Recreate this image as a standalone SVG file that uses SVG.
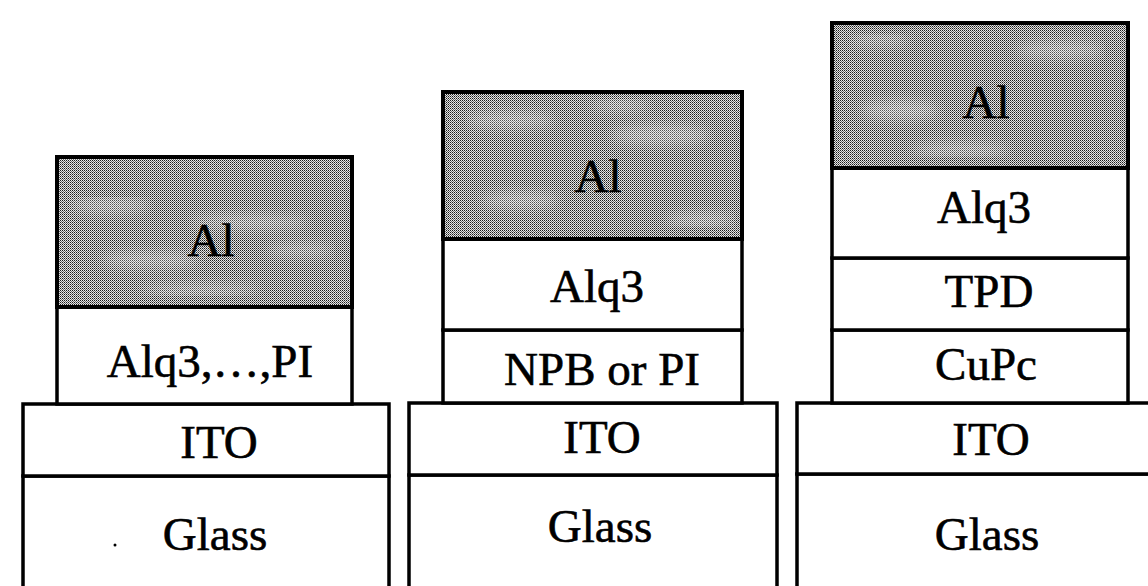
<svg xmlns="http://www.w3.org/2000/svg" width="1148" height="586" viewBox="0 0 1148 586">
  <style>
    .layer { fill: #ffffff; stroke: #000000; stroke-width: 3.5; }
    .metal { fill: url(#dither); stroke: #000000; stroke-width: 4; }
    .lbl { font-family: 'Liberation Serif', 'DejaVu Serif', serif; font-size: 47px; fill: #000000; stroke: #000000; stroke-width: 0.6; text-anchor: middle; }
  </style>
  <defs>
    <pattern id="dither" width="2" height="2" patternUnits="userSpaceOnUse">
      <rect width="2" height="2" fill="#e6e6e6"/>
      <rect width="1" height="1" fill="#1a1a1a"/>
      <rect x="1" y="1" width="1" height="1" fill="#6a6a6a"/>
    </pattern>
    <filter id="mottle" x="0" y="0" width="100%" height="100%">
      <feGaussianBlur stdDeviation="6"/>
    </filter>
  </defs>
  <rect width="1148" height="586" fill="#ffffff"/>

  <!-- Stack 1 -->
  <g id="stack1">
    <g id="s1-glass"><rect class="layer" x="23" y="476" width="366" height="120"/><text class="lbl" x="215" y="550">Glass</text><circle cx="115" cy="545" r="1.5" fill="#000"/></g>
    <g id="s1-ito"><rect class="layer" x="23" y="404" width="366" height="72"/><text class="lbl" x="219" y="458">ITO</text></g>
    <g id="s1-alq3"><rect class="layer" x="57" y="307" width="295" height="97"/><text class="lbl" x="210" y="377">Alq3,…,PI</text></g>
    <g id="s1-al">
      <rect class="metal" x="57" y="157" width="295" height="150"/>
      <g filter="url(#mottle)" fill="#ffffff" opacity="0.3">
        <ellipse cx="110" cy="205" rx="40" ry="8"/>
        <ellipse cx="250" cy="222" rx="60" ry="7"/>
        <ellipse cx="150" cy="260" rx="50" ry="8"/>
        <ellipse cx="300" cy="250" rx="35" ry="6"/>
        <ellipse cx="200" cy="290" rx="60" ry="6"/>
      </g>
      <text class="lbl" x="211" y="256">Al</text>
    </g>
  </g>

  <!-- Stack 2 -->
  <g id="stack2">
    <g id="s2-glass"><rect class="layer" x="409" y="475" width="368" height="120"/><text class="lbl" x="600" y="542">Glass</text></g>
    <g id="s2-ito"><rect class="layer" x="409" y="403" width="368" height="72"/><text class="lbl" x="602" y="453">ITO</text></g>
    <g id="s2-npb"><rect class="layer" x="443" y="330" width="299" height="73"/><text class="lbl" x="602" y="385">NPB or PI</text></g>
    <g id="s2-alq3"><rect class="layer" x="443" y="239" width="299" height="91"/><text class="lbl" x="597" y="302">Alq3</text></g>
    <g id="s2-al">
      <rect class="metal" x="443" y="92" width="299" height="147"/>
      <g filter="url(#mottle)" fill="#ffffff" opacity="0.3">
        <ellipse cx="510" cy="120" rx="45" ry="8"/>
        <ellipse cx="660" cy="135" rx="50" ry="10"/>
        <ellipse cx="520" cy="200" rx="40" ry="8"/>
        <ellipse cx="700" cy="220" rx="35" ry="7"/>
        <ellipse cx="620" cy="105" rx="30" ry="6"/>
      </g>
      <text class="lbl" x="598" y="192">Al</text>
    </g>
  </g>

  <!-- Stack 3 -->
  <g id="stack3">
    <g id="s3-glass"><rect class="layer" x="797" y="474" width="370" height="120"/><text class="lbl" x="987" y="550">Glass</text></g>
    <g id="s3-ito"><rect class="layer" x="797" y="403" width="370" height="71"/><text class="lbl" x="991" y="455">ITO</text></g>
    <g id="s3-cupc"><rect class="layer" x="832" y="330" width="296" height="73"/><text class="lbl" x="986" y="380">CuPc</text></g>
    <g id="s3-tpd"><rect class="layer" x="832" y="258" width="296" height="72"/><text class="lbl" x="989" y="307">TPD</text></g>
    <g id="s3-alq3"><rect class="layer" x="832" y="168" width="296" height="90"/><text class="lbl" x="984" y="223">Alq3</text></g>
    <g id="s3-al">
      <rect class="metal" x="832" y="23" width="296" height="145"/>
      <g filter="url(#mottle)" fill="#ffffff" opacity="0.3">
        <ellipse cx="900" cy="110" rx="40" ry="10"/>
        <ellipse cx="1060" cy="50" rx="45" ry="8"/>
        <ellipse cx="960" cy="150" rx="50" ry="7"/>
        <ellipse cx="880" cy="40" rx="30" ry="6"/>
      </g>
      <text class="lbl" x="986" y="118">Al</text>
    </g>
  </g>
</svg>
